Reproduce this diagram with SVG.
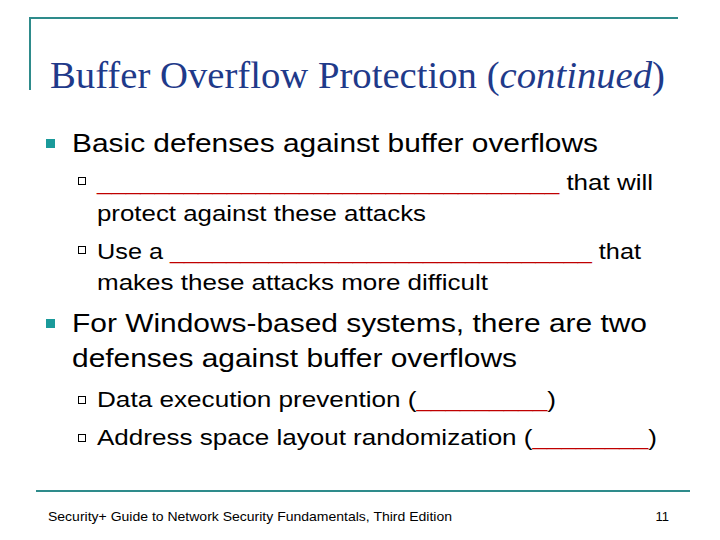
<svg xmlns="http://www.w3.org/2000/svg" width="720" height="540" viewBox="0 0 720 540">
<style>
.t{font-family:"Liberation Sans",Arial,sans-serif;fill:#000}
.l1{font-size:26px}
.l2{font-size:22px}
.r{fill:#C00000}
.sq{fill:#fff;stroke:#000;stroke-width:1}
</style>
<rect width="720" height="540" fill="#fff"/>
<g stroke="#2E8B8B" stroke-width="2" fill="none">
<path d="M30 18H678M30 17V90"/>
<path d="M36 491H690"/>
</g>
<text x="50" y="88" font-family="Liberation Serif,serif" font-size="37" fill="#1F3A8A" textLength="615" lengthAdjust="spacingAndGlyphs">Buffer Overflow Protection (<tspan font-style="italic">continued</tspan>)</text>
<g fill="#1A9A9A"><rect x="46" y="139" width="9" height="9"/><rect x="46" y="319" width="9" height="9"/></g>
<g class="sq"><rect x="78.5" y="177.5" width="7" height="7"/><rect x="78.5" y="246.5" width="7" height="7"/><rect x="78.5" y="396.5" width="7" height="7"/><rect x="78.5" y="434.5" width="7" height="7"/></g>
<g class="t" lengthAdjust="spacingAndGlyphs">
<text class="l1" x="72" y="152" textLength="526" lengthAdjust="spacingAndGlyphs">Basic defenses against buffer overflows</text>
<text class="l2" x="97" y="190" textLength="556" lengthAdjust="spacingAndGlyphs"><tspan class="r">________________________________</tspan> that will</text>
<text class="l2" x="97" y="221" textLength="329" lengthAdjust="spacingAndGlyphs">protect against these attacks</text>
<text class="l2" x="97" y="259" textLength="544" lengthAdjust="spacingAndGlyphs">Use a <tspan class="r">______________________________</tspan> that</text>
<text class="l2" x="97" y="290" textLength="391" lengthAdjust="spacingAndGlyphs">makes these attacks more difficult</text>
<text class="l1" x="72" y="332" textLength="575" lengthAdjust="spacingAndGlyphs">For Windows-based systems, there are two</text>
<text class="l1" x="72" y="367" textLength="445" lengthAdjust="spacingAndGlyphs">defenses against buffer overflows</text>
<text class="l2" x="97" y="407" textLength="459" lengthAdjust="spacingAndGlyphs">Data execution prevention (<tspan class="r">_________</tspan>)</text>
<text class="l2" x="97" y="445" textLength="560" lengthAdjust="spacingAndGlyphs">Address space layout randomization (<tspan class="r">________</tspan>)</text>
<text x="48" y="521" font-size="13" textLength="404" lengthAdjust="spacingAndGlyphs">Security+ Guide to Network Security Fundamentals, Third Edition</text>
<text x="669" y="521" font-size="13" text-anchor="end">11</text>
</g>
</svg>
